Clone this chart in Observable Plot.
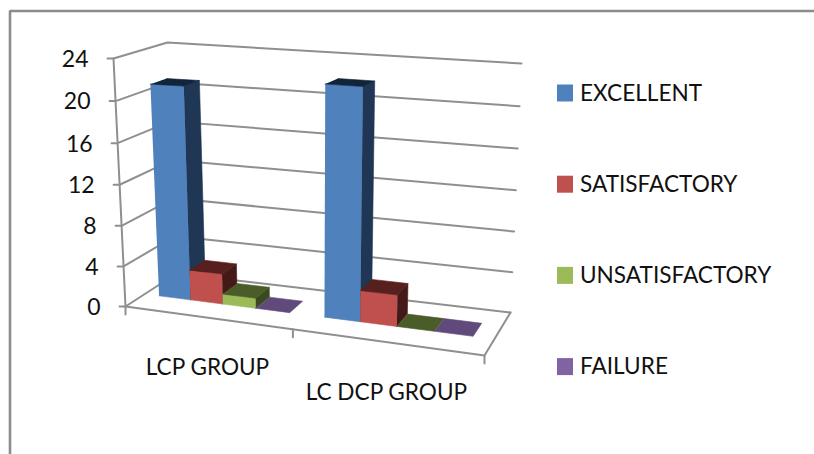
<!DOCTYPE html>
<html><head><meta charset="utf-8">
<script src="https://cdn.jsdelivr.net/npm/d3@7"></script>
<script src="https://cdn.jsdelivr.net/npm/@observablehq/plot@0.6"></script>
<style>html,body{margin:0;padding:0;background:#fff}svg{display:block}</style>
</head><body><div id="c"></div>
<script>
const categories = ["LCP GROUP", "LC DCP GROUP"];
const series = ["EXCELLENT", "SATISFACTORY", "UNSATISFACTORY", "FAILURE"];
const lcpValues = [21, 3, 1, 0];
const lcDcpValues = [22, 3, 0, 0];
const yTicks = [0, 4, 8, 12, 16, 20, 24];
const frontColors = ["#4F81BD", "#C0504D", "#9BBB59", "#8064A2"];
const sideColors = ["#1F3655", "#431A18", "#3A4A20", "#4A3A60"];
const topColors = ["#10243A", "#571F1D", "#4A5C27", "#604A7B"];

// 3D view of the Excel-style chart: floor corners and the rise of the full value axis at each corner
const floorQuad = [[125,306],[484,355],[510,312],[176,273]]; // front-left, front-right, back-right, back-left
const riseQuad  = [[-12,-248],[10,-275],[11,-249],[-9,-231]];
function homography(q){
  const [[x0,y0],[x1,y1],[x2,y2],[x3,y3]] = q;
  const dx1=x1-x2, dx2=x3-x2, sx=x0-x1+x2-x3, dy1=y1-y2, dy2=y3-y2, sy=y0-y1+y2-y3;
  const den=dx1*dy2-dx2*dy1, g=(sx*dy2-dx2*sy)/den, h=(dx1*sy-sx*dy1)/den;
  const a=x1-x0+g*x1,b=x3-x0+h*x3,d=y1-y0+g*y1,e=y3-y0+h*y3;
  return (u,v)=>{const w=g*u+h*v+1;return [(a*u+b*v+x0)/w,(d*u+e*v+y0)/w];};
}
const hFloor=homography(floorQuad);
const maxV=24, k=0.037, warp=0.032;
function project(cat, depth, value){
  const u0=cat/2, u=u0+warp*u0*(1-u0), t0=value/maxV, t=t0/(1+k*(1-t0));
  const a=hFloor(u,depth);
  const r=i=>(1-u)*(1-depth)*riseQuad[0][i]+u*(1-depth)*riseQuad[1][i]+u*depth*riseQuad[2][i]+(1-u)*depth*riseQuad[3][i];
  return [a[0]+r(0)*t, a[1]+r(1)*t];
}

const axisShapes=[]; let id=0;
function poly(arr,pts,extra={}){const z=id++;pts.forEach(p=>arr.push({x:p[0],y:p[1],z,...extra}));}
// wall gridlines
for(const v of yTicks){
  const fl=project(0,0,v);
  poly(axisShapes,[[fl[0]-6,fl[1]],fl,project(0,1,v),project(2,1,v)]);
}
// axes and floor
poly(axisShapes,[project(0,0,0),project(0,0,24)]);
poly(axisShapes,[project(0,0,0),project(2,0,0),project(2,1,0)]);
for(const c of [0,1,2]){const p=project(c,0,0);poly(axisShapes,[p,[p[0],p[1]+8]]);}

// bars
const barStart=0.092, barW=0.2, d0=0.36, d1=0.67;
const faces=[];
[lcpValues,lcDcpValues].forEach((vals,c)=>{
  vals.forEach((val,s)=>{
    const u0=c+barStart+s*barW,u1=u0+barW;
    const A=(u,d,v)=>project(u,d,v);
    if(val>0){
      poly(faces,[A(u0,d0,0),A(u1,d0,0),A(u1,d0,val),A(u0,d0,val)],{c:frontColors[s]});
      poly(faces,[A(u1,d0,0),A(u1,d1,0),A(u1,d1,val),A(u1,d0,val)],{c:sideColors[s]});
    }
    poly(faces,[A(u0,d0,val),A(u1,d0,val),A(u1,d1,val),A(u0,d1,val)],{c:topColors[s]});
  });
});

const font="Lato";
const tickData=yTicks.map(v=>{const p=project(0,0,v);return {x:p[0]-25,y:p[1]+1,t:String(v)};});
const catData=categories.map((t,i)=>{const p=project(i+0.5,0,0);return {t,x:p[0]+1,y:p[1]+50.5};});
const legendData=series.map((t,i)=>({t,c:frontColors[i],y:93+i*91.2}));

const chart=Plot.plot({
  width:814,height:454,margin:0,
  x:{domain:[0,814],range:[0,814],axis:null},
  y:{domain:[0,454],range:[0,454],axis:null},
  color:{type:"identity"},
  style:{background:"#fff",fontFamily:font},
  marks:[
    Plot.line([{x:814,y:10.5},{x:9.5,y:10.5},{x:9.5,y:454}],{x:"x",y:"y",stroke:"#8c8c8c",strokeWidth:2.6,curve:"linear",strokeLinejoin:"miter"}),
    Plot.line(axisShapes,{x:"x",y:"y",z:"z",stroke:"#8f8f8f",strokeWidth:2}),
    Plot.line(faces,{x:"x",y:"y",z:"z",fill:"c",stroke:"c",strokeWidth:0.6}),
    Plot.text(tickData,{x:"x",y:"y",text:"t",textAnchor:"end",fontSize:23,fill:"#111",fontFamily:font}),
    Plot.text(catData,{x:"x",y:"y",text:"t",textAnchor:"middle",fontSize:22.6,fill:"#111",fontFamily:font}),
    Plot.rect(legendData,{x1:()=>557,x2:()=>573,y1:d=>d.y-8.5,y2:d=>d.y+8.5,fill:"c"}),
    Plot.text(legendData,{x:()=>579.5,y:"y",text:"t",textAnchor:"start",fontSize:22.6,fill:"#111",fontFamily:font})
  ]
});
document.getElementById("c").appendChild(chart);
</script></body></html>
